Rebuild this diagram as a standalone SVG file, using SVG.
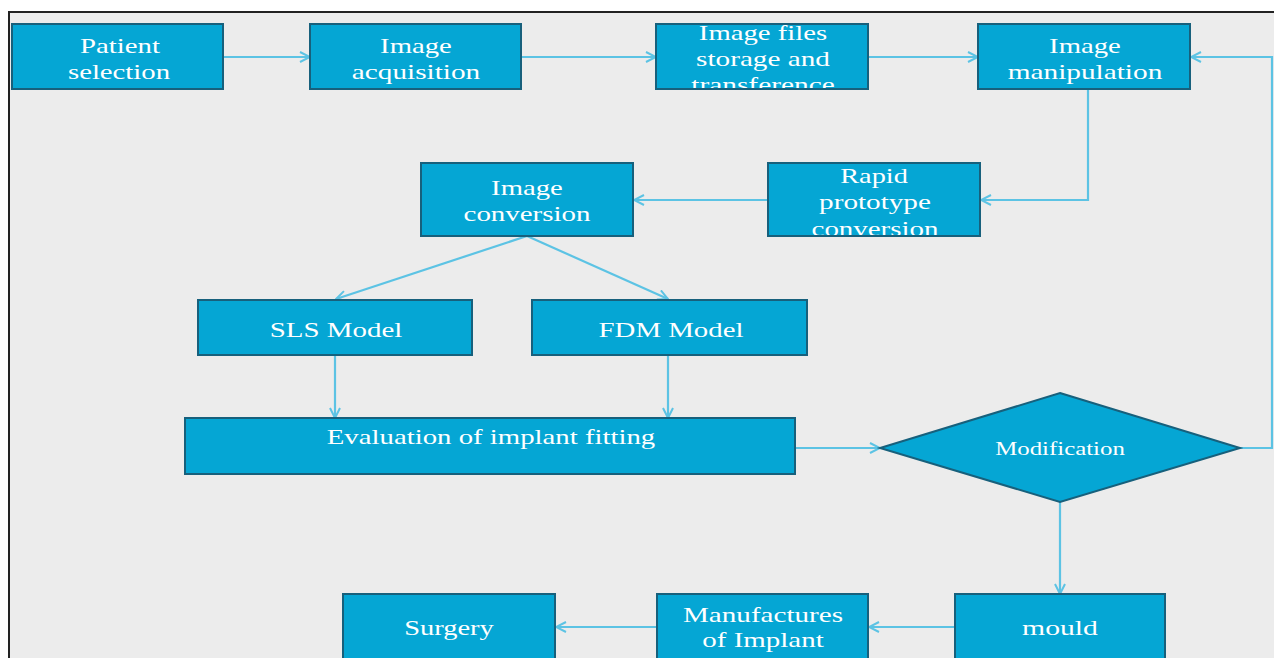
<svg xmlns="http://www.w3.org/2000/svg" width="1274" height="658" viewBox="0 0 1274 658">
<style>
.box{fill:#05a6d4;stroke:#17607c;stroke-width:2}
.t{font-family:"Liberation Serif","Times New Roman",serif;font-size:21px;fill:#ffffff;text-anchor:middle}
.c{fill:none;stroke:#5cc3e4;stroke-width:2.2}
</style>
<defs>
<marker id="a" viewBox="0 0 12 12" refX="11" refY="6" markerWidth="12" markerHeight="12" markerUnits="userSpaceOnUse" orient="auto">
<path d="M1,1 L11,6 L1,11" fill="none" stroke="#5cc3e4" stroke-width="2"/>
</marker>
<clipPath id="cf"><rect x="656" y="24" width="212" height="65"/></clipPath>
<clipPath id="cr"><rect x="768" y="163" width="212" height="73"/></clipPath>
</defs>
<rect x="0" y="0" width="1274" height="658" fill="#ffffff"/>
<rect x="9" y="12" width="1270" height="650" fill="#ececec" stroke="#222" stroke-width="2"/>
<g id="connectors">
<path class="c" d="M223,57 H310" marker-end="url(#a)"/>
<path class="c" d="M521,57 H656" marker-end="url(#a)"/>
<path class="c" d="M868,57 H978" marker-end="url(#a)"/>
<path class="c" d="M1088,89 V200 H981" marker-end="url(#a)"/>
<path class="c" d="M768,200 H634" marker-end="url(#a)"/>
<path class="c" d="M527,236 L336,299" marker-end="url(#a)"/>
<path class="c" d="M527,236 L668,299" marker-end="url(#a)"/>
<path class="c" d="M335,355 V418" marker-end="url(#a)"/>
<path class="c" d="M668,355 V418" marker-end="url(#a)"/>
<path class="c" d="M795,448 H880" marker-end="url(#a)"/>
<path class="c" d="M1240,448 H1272 V57 H1191" marker-end="url(#a)"/>
<path class="c" d="M1060,502 V594" marker-end="url(#a)"/>
<path class="c" d="M955,627 H869" marker-end="url(#a)"/>
<path class="c" d="M657,627 H556" marker-end="url(#a)"/>
</g>
<g id="patient"><rect class="box" x="12" y="24" width="211" height="65"/><text class="t" transform="translate(120,53) scale(1.38,1)" textLength="58" lengthAdjust="spacingAndGlyphs">Patient</text><text class="t" transform="translate(119,79) scale(1.38,1)" textLength="74" lengthAdjust="spacingAndGlyphs">selection</text></g>
<g id="acquisition"><rect class="box" x="310" y="24" width="211" height="65"/><text class="t" transform="translate(416,53) scale(1.38,1)" textLength="52" lengthAdjust="spacingAndGlyphs">Image</text><text class="t" transform="translate(416,79) scale(1.38,1)" textLength="93" lengthAdjust="spacingAndGlyphs">acquisition</text></g>
<g id="files"><rect class="box" x="656" y="24" width="212" height="65"/><g clip-path="url(#cf)"><text class="t" transform="translate(763,40) scale(1.38,1)" textLength="93" lengthAdjust="spacingAndGlyphs">Image files</text><text class="t" transform="translate(763,66) scale(1.38,1)" textLength="97" lengthAdjust="spacingAndGlyphs">storage and</text><text class="t" transform="translate(763,92) scale(1.38,1)" textLength="104" lengthAdjust="spacingAndGlyphs">transference</text></g><rect x="656" y="24" width="212" height="65" fill="none" stroke="#17607c" stroke-width="2"/></g>
<g id="manipulation"><rect class="box" x="978" y="24" width="212" height="65"/><text class="t" transform="translate(1085,53) scale(1.38,1)" textLength="52" lengthAdjust="spacingAndGlyphs">Image</text><text class="t" transform="translate(1085,79) scale(1.38,1)" textLength="112" lengthAdjust="spacingAndGlyphs">manipulation</text></g>
<g id="rapid"><rect class="box" x="768" y="163" width="212" height="73"/><g clip-path="url(#cr)"><text class="t" transform="translate(874,183) scale(1.38,1)" textLength="49" lengthAdjust="spacingAndGlyphs">Rapid</text><text class="t" transform="translate(875,209) scale(1.38,1)" textLength="81" lengthAdjust="spacingAndGlyphs">prototype</text><text class="t" transform="translate(875,236) scale(1.38,1)" textLength="92" lengthAdjust="spacingAndGlyphs">conversion</text></g><rect x="768" y="163" width="212" height="73" fill="none" stroke="#17607c" stroke-width="2"/></g>
<g id="conversion"><rect class="box" x="421" y="163" width="212" height="73"/><text class="t" transform="translate(527,195) scale(1.38,1)" textLength="52" lengthAdjust="spacingAndGlyphs">Image</text><text class="t" transform="translate(527,221) scale(1.38,1)" textLength="92" lengthAdjust="spacingAndGlyphs">conversion</text></g>
<g id="sls"><rect class="box" x="198" y="300" width="274" height="55"/><text class="t" transform="translate(336,337) scale(1.38,1)" textLength="96" lengthAdjust="spacingAndGlyphs">SLS Model</text></g>
<g id="fdm"><rect class="box" x="532" y="300" width="275" height="55"/><text class="t" transform="translate(671,337) scale(1.38,1)" textLength="105" lengthAdjust="spacingAndGlyphs">FDM Model</text></g>
<g id="evaluation"><rect class="box" x="185" y="418" width="610" height="56"/><text class="t" transform="translate(491,444) scale(1.38,1)" textLength="238" lengthAdjust="spacingAndGlyphs">Evaluation of implant fitting</text></g>
<g id="modification"><polygon class="box" points="1060,393 1240,448 1060,502 880,448"/><text class="t" transform="translate(1060,455) scale(1.38,1)" style="font-size:19px" textLength="94" lengthAdjust="spacingAndGlyphs">Modification</text></g>
<g id="mould"><rect class="box" x="955" y="594" width="210" height="70"/><text class="t" transform="translate(1060,635) scale(1.38,1)" textLength="55" lengthAdjust="spacingAndGlyphs">mould</text></g>
<g id="manufactures"><rect class="box" x="657" y="594" width="211" height="70"/><text class="t" transform="translate(763,622) scale(1.38,1)" textLength="116" lengthAdjust="spacingAndGlyphs">Manufactures</text><text class="t" transform="translate(763,647) scale(1.38,1)" textLength="88" lengthAdjust="spacingAndGlyphs">of Implant</text></g>
<g id="surgery"><rect class="box" x="343" y="594" width="212" height="70"/><text class="t" transform="translate(449,635) scale(1.38,1)" textLength="65" lengthAdjust="spacingAndGlyphs">Surgery</text></g>
</svg>
